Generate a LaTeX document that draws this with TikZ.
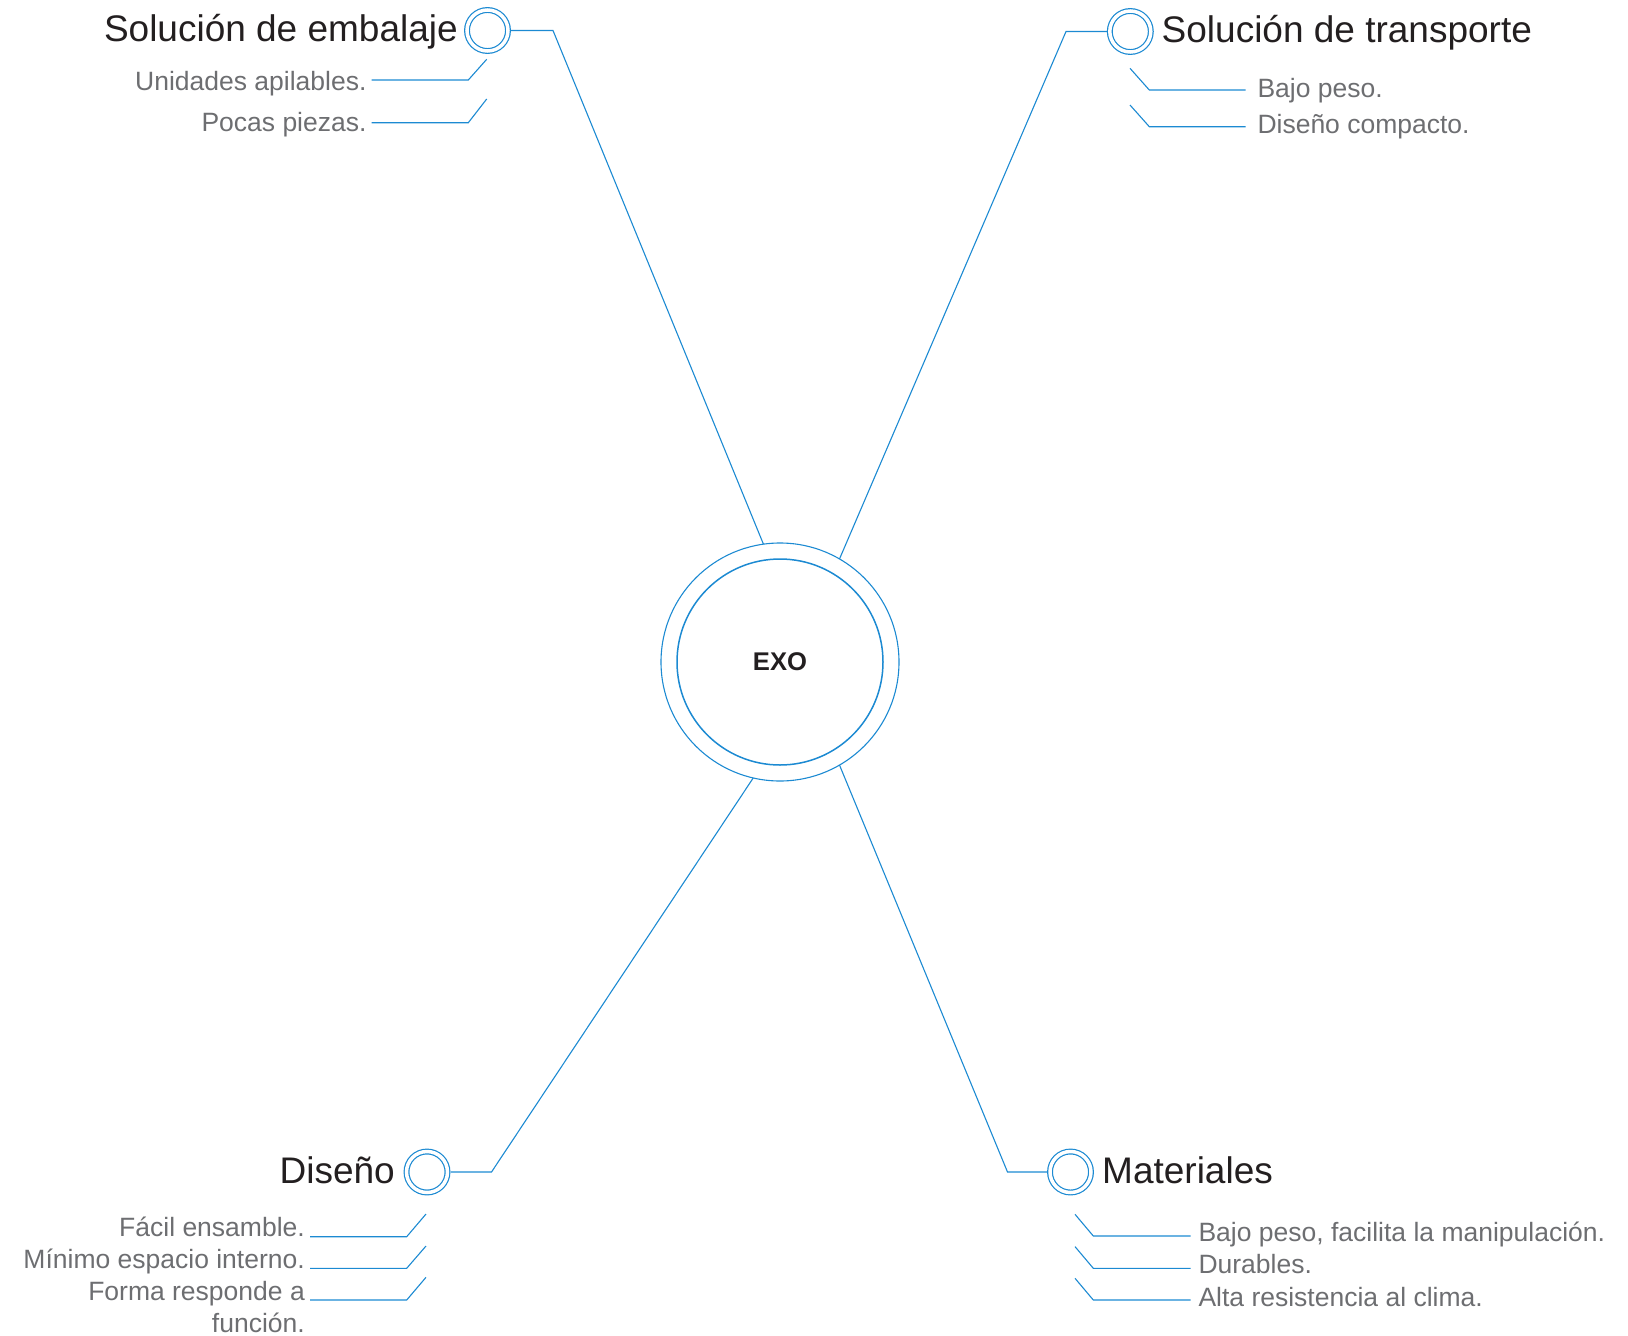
\documentclass[tikz,border=0pt]{standalone}
\usepackage{fontspec}
\setmainfont{Liberation Sans}
\usepackage{xcolor}
\usepackage{tikz}
\usetikzlibrary{positioning}

\definecolor{linkblue}{RGB}{28,138,210}
\definecolor{titlegray}{RGB}{35,31,32}
\definecolor{itemgray}{RGB}{109,110,113}

\begin{document}
\begin{tikzpicture}[
    x=1pt, y=-1pt,
    hub/.style={circle, draw=linkblue, line width=1.1pt, minimum size=238pt, inner sep=0pt, outer sep=0pt, text=titlegray, font=\bfseries\fontsize{25.6}{30}\selectfont},
    ring/.style={draw=linkblue, line width=1.5pt},
    dot/.style={circle, draw=linkblue, double=white, double distance=3.5pt, line width=1.2pt, minimum size=41pt, inner sep=0pt, outer sep=3pt},
    title/.style={inner sep=0pt, text=titlegray, font=\fontsize{37}{44}\selectfont},
    item/.style={inner sep=0pt, text=itemgray, font=\fontsize{26.5}{32}\selectfont},
    link/.style={draw=linkblue, line width=1.1pt}
]
\useasboundingbox (0,0) rectangle (1628,1336);

% Centre
\node[hub] (exo) at (780,662) {EXO};
\draw[ring] (exo.center) circle[radius=103pt];

% Branch points
\node[dot] (emb) at (487.5,30.5) {};
\node[dot] (trn) at (1130.3,31.5) {};
\node[dot] (dis) at (427,1172) {};
\node[dot] (mat) at (1070.5,1172) {};

\coordinate (kemb) at (553,30.5);
\coordinate (ktrn) at (1066,31.5);
\coordinate (kdis) at (491.5,1172);
\coordinate (kmat) at (1007.5,1172);

% Titles
\node[title, anchor=base east] (embt) at (458,41.5) {Solución de embalaje};
\node[title, anchor=base west] (trnt) at (1161.5,42.5) {Solución de transporte};
\node[title, anchor=base east] (dist) at (395,1183.3) {Diseño};
\node[title, anchor=base west] (matt) at (1102,1183) {Materiales};

% Items
\node[item, anchor=base east] (e1) at (366.7,90) {Unidades apilables.};
\node[item, anchor=base east] (e2) at (366.7,131.7) {Pocas piezas.};

\node[item, anchor=base west] (t1) at (1257.3,97.3) {Bajo peso.};
\node[item, anchor=base west] (t2) at (1257.3,133.3) {Diseño compacto.};

\node[item, anchor=base east] (d1) at (305,1236.7) {Fácil ensamble.};
\node[item, anchor=base east] (d2) at (305,1268.3) {Mínimo espacio interno.};
\node[item, anchor=base east, align=right] (d3) at (305,1332) {Forma responde a\\función.};

\node[item, anchor=base west] (m1) at (1198.3,1241.7) {Bajo peso, facilita la manipulación.};
\node[item, anchor=base west] (m2) at (1198.3,1273.3) {Durables.};
\node[item, anchor=base west] (m3) at (1198.3,1306) {Alta resistencia al clima.};

% Main connectors
\draw[link] (exo.98) -- (kemb) -- (emb);
\draw[link] (exo.60) -- (ktrn) -- (trn);
\draw[link] (exo.257) -- (kdis) -- (dis);
\draw[link] (exo.300) -- (kmat) -- (mat);

% Item leaders
\draw[link] ([shift={(5,-10)}]e1.base east) -- ++(96.6,0) -- ++(18.4,-20.7);
\draw[link] ([shift={(5,-9)}]e2.base east) -- ++(96.6,0) -- ++(18.4,-23.7);

\draw[link] ([shift={(-11.6,-7.3)}]t1.base west) -- ++(-96.4,0) -- ++(-19.3,-21.7);
\draw[link] ([shift={(-11.6,-6.6)}]t2.base west) -- ++(-96.4,0) -- ++(-19.3,-21.7);

\draw[link] ([shift={(5,0)}]d1.base east) -- ++(96.7,0) -- ++(19.3,-22.7);
\draw[link] ([shift={(5,0)}]d2.base east) -- ++(96.7,0) -- ++(19.3,-22.3);
\draw[link] ([shift={(5,-32)}]d3.base east) -- ++(96.7,0) -- ++(19.3,-22.7);

\draw[link] ([shift={(-7.6,-5.7)}]m1.base west) -- ++(-97.4,0) -- ++(-18.3,-21.7);
\draw[link] ([shift={(-7.6,-5.0)}]m2.base west) -- ++(-97.4,0) -- ++(-18.3,-21.7);
\draw[link] ([shift={(-7.6,-6.0)}]m3.base west) -- ++(-97.4,0) -- ++(-18.3,-21.7);

\end{tikzpicture}
\end{document}
